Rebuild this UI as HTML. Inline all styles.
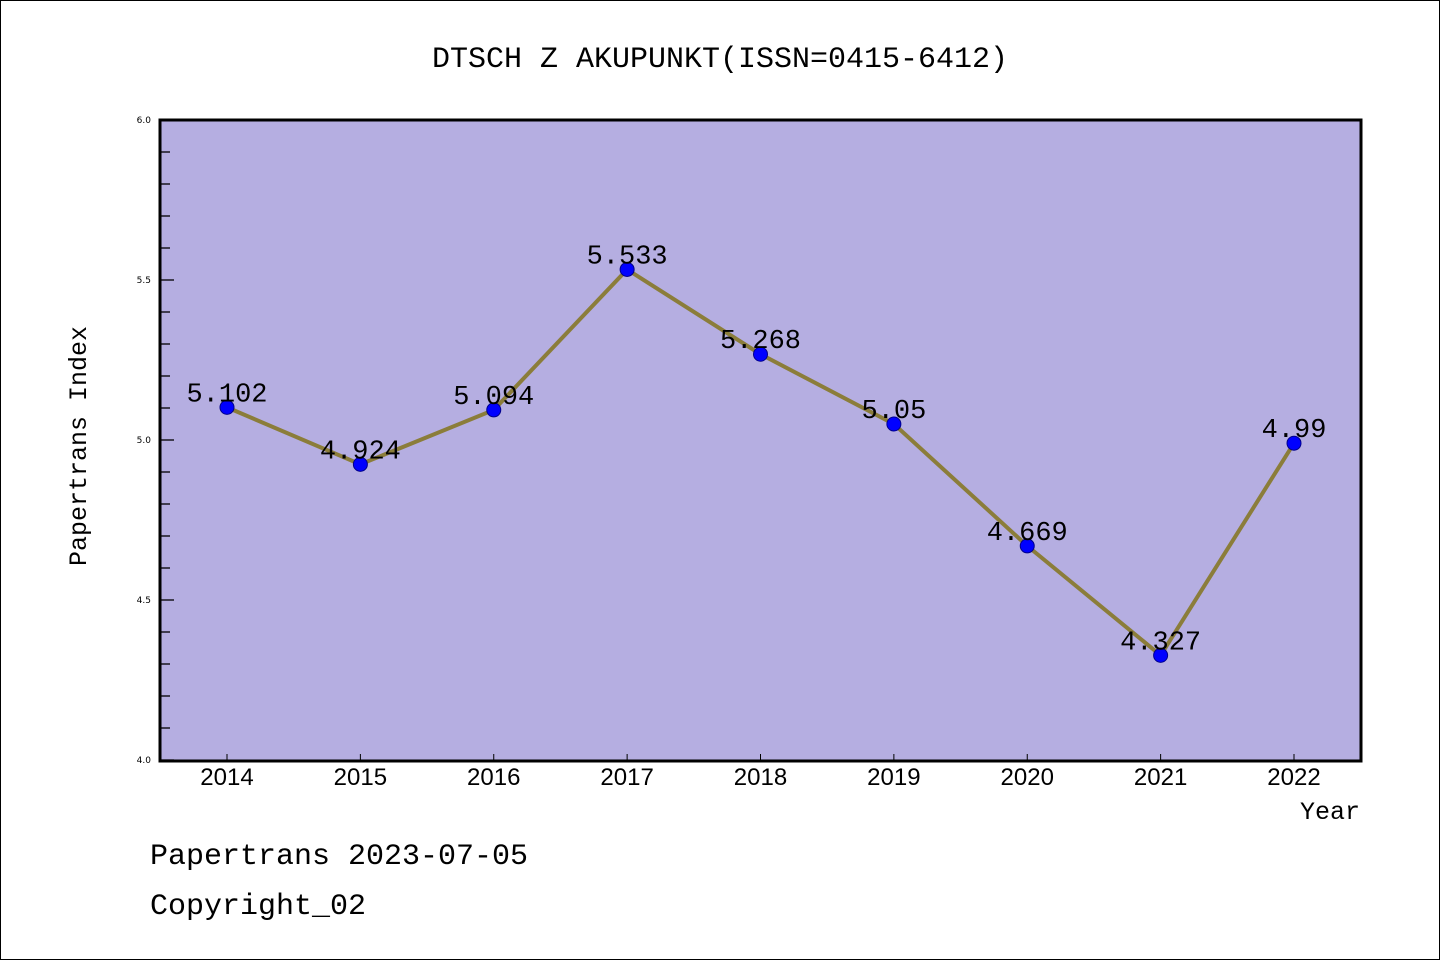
<!DOCTYPE html>
<html><head><meta charset="utf-8"><style>
body{margin:0;background:#fff}
svg{display:block;font-family:"Liberation Mono","WenQuanYi Zen Hei",monospace}
</style></head><body>
<svg id="c" width="1440" height="960" viewBox="0 0 1440 960">
<rect x="0.5" y="0.5" width="1439" height="959" fill="#fff" stroke="#000"/>
<text x="720" y="67" text-anchor="middle" font-size="30">DTSCH Z AKUPUNKT(ISSN=0415-6412)</text>
<rect x="160" y="120" width="1201" height="641" fill="#b5aee1"/>
<g id="axes"></g>
<g id="series"></g>
<rect x="160" y="120" width="1201" height="641" fill="none" stroke="#000" stroke-width="3"/>
<text x="86" y="446" transform="rotate(-90 86 446)" text-anchor="middle" font-size="25">Papertrans Index</text>
<text x="1360" y="819" text-anchor="end" font-size="25">Year</text>
<text x="150" y="864" font-size="30">Papertrans 2023-07-05</text>
<text x="150" y="914" font-size="30">Copyright_02</text>
</svg>
<script>
const years=[2014,2015,2016,2017,2018,2019,2020,2021,2022];
const values=[5.102,4.924,5.094,5.533,5.268,5.05,4.669,4.327,4.99];
const labels=["5.102","4.924","5.094","5.533","5.268","5.05","4.669","4.327","4.99"];
const yTicks=["4.0","4.5","5.0","5.5","6.0"];
const NS="http://www.w3.org/2000/svg";
const yMin=4,yMax=6,plotTop=120,plotBot=760;
const xs=i=>227+i*(1294-227)/(years.length-1);
const ys=v=>plotBot-(v-yMin)/(yMax-yMin)*(plotBot-plotTop);
function mk(t,a,p){const e=document.createElementNS(NS,t);for(const k in a)e.setAttribute(k,a[k]);p.appendChild(e);return e;}
const ax=document.getElementById('axes'),se=document.getElementById('series');
for(let k=0;k<=20;k++){const v=yMin+k*0.1;const major=k%5===0;
 const l=mk('line',{x1:160,x2:major?174:170,y1:ys(v),y2:ys(v),stroke:'#000','stroke-width':1.3},ax);
 
 }
yTicks.forEach(t=>{const e=mk('text',{x:151,y:ys(+t)+3,'text-anchor':'end','font-size':9,'font-family':'DejaVu Sans,sans-serif'},ax);e.textContent=t;
 
 });
years.forEach((yr,i)=>{const l=mk('line',{x1:xs(i),x2:xs(i),y1:760,y2:754,stroke:'#000','stroke-width':1},ax);
 
 
 const t=mk('text',{x:xs(i),y:785,'text-anchor':'middle','font-size':24,'font-family':'Liberation Sans,sans-serif'},ax);t.textContent=yr;
 
 });
const pl=mk('polyline',{points:values.map((v,i)=>xs(i)+','+ys(v)).join(' '),fill:'none',stroke:'#8b7d3a','stroke-width':4},se);


values.forEach((v,i)=>{const c=mk('circle',{cx:xs(i),cy:ys(v),r:7,fill:'#0000ff',stroke:'#00008b','stroke-width':1},se);
 
 
 const t=mk('text',{x:xs(i),y:ys(v)-6,'text-anchor':'middle','font-size':27},se);t.textContent=labels[i];
 
 });
</script>
</body></html>
